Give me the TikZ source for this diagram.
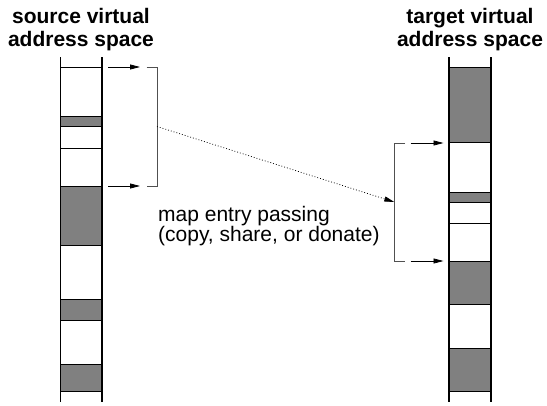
\documentclass[tikz,border=0pt]{standalone}
\usepackage{fontspec}
\setmainfont{Liberation Sans}
\usetikzlibrary{arrows.meta}
\definecolor{bandgray}{RGB}{128,128,128}
\definecolor{brk}{RGB}{80,80,80}
\begin{document}
\begin{tikzpicture}[x=1pt,y=-1pt,
  colline/.style={line width=1.8pt},
  sep/.style={line width=0.9pt},
  band/.style={fill=bandgray},
  brack/.style={draw=brk,line width=0.8pt},
  ptr/.style={line width=0.8pt,-{Triangle[length=10pt,width=5pt]}},
  pass/.style={line width=0.7pt,dash pattern=on 0.9pt off 2pt,-{Triangle[length=10pt,width=5pt]}},
  ttl/.style={font=\fontsize{21}{22}\selectfont\bfseries,anchor=base,inner sep=0pt},
  lbl/.style={font=\fontsize{21}{20}\selectfont,anchor=base west,inner sep=0pt}]
\useasboundingbox (0,0) rectangle (547,405);
% titles
\node[ttl] (st1) at (81,23.5) {source virtual};
\node[ttl] (st2) at (81,46) {address space};
\node[ttl] (tt1) at (470,23.5) {target virtual};
\node[ttl] (tt2) at (470,46) {address space};
% source column bands
\foreach \a/\b in {116.7/126.7,186/245.3,299.3/320.7,364/391.3}
  \fill[band] (60.5,\a) rectangle (102,\b);
\foreach \y in {67,116.7,126.7,148,186,245.3,299.3,320.7,364,391.3}
  \draw[sep] (60.5,\y) -- (102,\y);
\draw[colline] (60.5,57) -- (60.5,401.5);
\draw[colline] (102,57) -- (102,401.5);
% target column bands
\foreach \a/\b in {67.3/142.7,192/202,261.7/304.7,348.3/391.3}
  \fill[band] (449,\a) rectangle (491,\b);
\foreach \y in {67.3,142.7,192,202,223.7,261.7,304.7,348.3,391.3}
  \draw[sep] (449,\y) -- (491,\y);
\draw[colline] (449,57) -- (449,401.5);
\draw[colline] (491,57) -- (491,401.5);
% source bracket
\coordinate (sa1) at (108,67);
\coordinate (sb1) at (140,67);
\coordinate (sa2) at (108,186);
\coordinate (sb2) at (140,186);
\coordinate (sk1) at (146.5,67);
\coordinate (sk2) at (146.5,186);
\coordinate (sm) at (157,126.5);
\draw[ptr] (sa1) -- (sb1);
\draw[ptr] (sa2) -- (sb2);
\draw[brack] (sk1) -- (157,67) -- (157,186) -- (sk2);
% target bracket
\coordinate (tk1) at (405,143);
\coordinate (tk2) at (405,261);
\coordinate (ta1) at (410.7,143);
\coordinate (tb1) at (443.5,143);
\coordinate (ta2) at (410.7,261);
\coordinate (tb2) at (443.5,261);
\coordinate (tm) at (394.3,202);
\draw[brack] (tk1) -- (394.3,143) -- (394.3,261) -- (tk2);
\draw[ptr] (ta1) -- (tb1);
\draw[ptr] (ta2) -- (tb2);
% passing arrow
\draw[pass] (sm) -- (tm);
% label
\node[lbl] (l1) at (158,221.7) {map entry passing};
\node[lbl] (l2) at (158,241.7) {(copy, share, or donate)};
\end{tikzpicture}
\end{document}
